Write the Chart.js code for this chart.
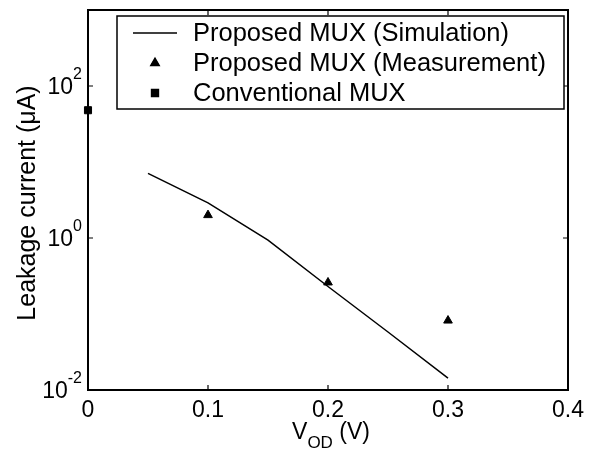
<!DOCTYPE html>
<html>
<head>
<meta charset="utf-8">
<script src="https://cdn.jsdelivr.net/npm/chart.js@4"></script>
<style>
  html, body { margin: 0; padding: 0; background: #fff; }
  #wrap { width: 597px; height: 450px; }
</style>
</head>
<body>
<div id="wrap"><canvas id="grafica" width="597" height="450"></canvas></div>
<script>
// values
const simV = [0.05, 0.1, 0.15, 0.2, 0.25, 0.3];
const simLeak = [7.1, 2.9, 0.94, 0.23, 0.058, 0.0143];
const measV = [0.1, 0.2, 0.3];
const measLeak = [2.0, 0.26, 0.082];
const convV = [0];
const convLeak = [48];
const xTicks = [0, 0.1, 0.2, 0.3, 0.4];
const yTickExp = [-2, 0, 2];
const legendLabels = ['Proposed MUX (Simulation)', 'Proposed MUX (Measurement)', 'Conventional MUX'];

const FONT = 'Liberation Sans, Arial, sans-serif';

function pts(xs, ys) {
  return xs.map((x, i) => ({ x: x, y: ys[i] }));
}

// axes box, inward ticks, tick labels, axis titles and legend
const decor = {
  id: 'decor',
  afterDraw(chart) {
    const ctx = chart.ctx;
    const a = chart.chartArea;
    const xs = chart.scales.x, ys = chart.scales.y;
    ctx.save();
    ctx.strokeStyle = '#000';
    ctx.fillStyle = '#000';

    // box
    ctx.lineWidth = 2;
    ctx.strokeRect(a.left, a.top, a.right - a.left, a.bottom - a.top);

    // ticks
    ctx.lineWidth = 1.2;
    ctx.beginPath();
    xTicks.forEach(v => {
      const px = xs.getPixelForValue(v);
      ctx.moveTo(px, a.bottom); ctx.lineTo(px, a.bottom - 5);
      ctx.moveTo(px, a.top); ctx.lineTo(px, a.top + 5);
    });
    yTickExp.forEach(e => {
      const py = ys.getPixelForValue(Math.pow(10, e));
      ctx.moveTo(a.left, py); ctx.lineTo(a.left + 5, py);
      ctx.moveTo(a.right, py); ctx.lineTo(a.right - 5, py);
    });
    ctx.stroke();

    // x tick labels
    ctx.font = '23px ' + FONT;
    ctx.textAlign = 'center';
    ctx.textBaseline = 'top';
    xTicks.forEach(v => {
      ctx.fillText(String(v), xs.getPixelForValue(v), a.bottom + 9);
    });

    // y tick labels 10^n
    yTickExp.forEach(e => {
      const py = ys.getPixelForValue(Math.pow(10, e));
      const sup = String(e);
      ctx.font = '16px ' + FONT;
      const sw = ctx.measureText(sup).width;
      ctx.textAlign = 'left';
      ctx.textBaseline = 'alphabetic';
      ctx.fillText(sup, a.left - 6 - sw, py - 7);
      ctx.font = '23px ' + FONT;
      ctx.textAlign = 'right';
      ctx.fillText('10', a.left - 6 - sw, py + 8);
    });

    // y title
    ctx.save();
    ctx.translate(35, 203);
    ctx.rotate(-Math.PI / 2);
    ctx.font = '25px ' + FONT;
    ctx.textAlign = 'center';
    ctx.textBaseline = 'alphabetic';
    ctx.fillText('Leakage current (\u03bcA)', 0, 0);
    ctx.restore();

    // x title V_OD (V)
    ctx.font = '23px ' + FONT;
    const w1 = ctx.measureText('V').width;
    const w3 = ctx.measureText(' (V)').width;
    ctx.font = '17px ' + FONT;
    const w2 = ctx.measureText('OD').width;
    let x0 = (a.left + a.right) / 2 - (w1 + w2 + w3) / 2 + 3;
    const base = 439;
    ctx.textAlign = 'left';
    ctx.textBaseline = 'alphabetic';
    ctx.font = '23px ' + FONT;
    ctx.fillText('V', x0, base);
    ctx.font = '17px ' + FONT;
    ctx.fillText('OD', x0 + w1, base + 9);
    ctx.font = '23px ' + FONT;
    ctx.fillText(' (V)', x0 + w1 + w2, base);

    // legend
    const lx = a.left + 29, ly = a.top + 6, lw = a.right - a.left - 33, lh = 93;
    ctx.fillStyle = '#fff';
    ctx.fillRect(lx, ly, lw, lh);
    ctx.lineWidth = 1.5;
    ctx.strokeRect(lx, ly, lw, lh);
    ctx.fillStyle = '#000';
    const rows = [ly + 17, ly + 47, ly + 77];
    ctx.lineWidth = 1.3;
    ctx.beginPath();
    ctx.moveTo(lx + 16, rows[0]); ctx.lineTo(lx + 60, rows[0]);
    ctx.stroke();
    Chart.helpers.drawPoint(ctx, { pointStyle: 'triangle', radius: 5, borderWidth: 1 }, lx + 38, rows[1]);
    ctx.fill();
    Chart.helpers.drawPoint(ctx, { pointStyle: 'rect', radius: 5, borderWidth: 1 }, lx + 38, rows[2]);
    ctx.fill();
    ctx.font = '25.5px ' + FONT;
    ctx.textAlign = 'left';
    ctx.textBaseline = 'middle';
    legendLabels.forEach((t, i) => ctx.fillText(t, lx + 76, rows[i] + 1));

    ctx.restore();
  }
};

new Chart(document.getElementById('grafica'), {
  type: 'scatter',
  data: {
    datasets: [
      {
        label: legendLabels[0],
        data: pts(simV, simLeak),
        showLine: true,
        borderColor: '#000',
        borderWidth: 1.5,
        pointRadius: 0,
        tension: 0
      },
      {
        label: legendLabels[1],
        data: pts(measV, measLeak),
        pointStyle: 'triangle',
        pointRadius: 5,
        backgroundColor: '#000',
        borderColor: '#000',
        borderWidth: 1
      },
      {
        label: legendLabels[2],
        data: pts(convV, convLeak),
        pointStyle: 'rect',
        pointRadius: 5,
        backgroundColor: '#000',
        borderColor: '#000',
        borderWidth: 1,
        clip: false
      }
    ]
  },
  options: {
    responsive: false,
    animation: false,
    layout: { padding: { left: 88, top: 10, right: 29, bottom: 60 } },
    plugins: {
      legend: { display: false },
      tooltip: { enabled: false }
    },
    scales: {
      x: {
        type: 'linear',
        min: 0,
        max: 0.4,
        grid: { display: false, drawTicks: false },
        border: { display: false },
        ticks: { display: false }
      },
      y: {
        type: 'logarithmic',
        min: 0.01,
        max: 1000,
        grid: { display: false, drawTicks: false },
        border: { display: false },
        ticks: { display: false }
      }
    }
  },
  plugins: [decor]
});
</script>
</body>
</html>
